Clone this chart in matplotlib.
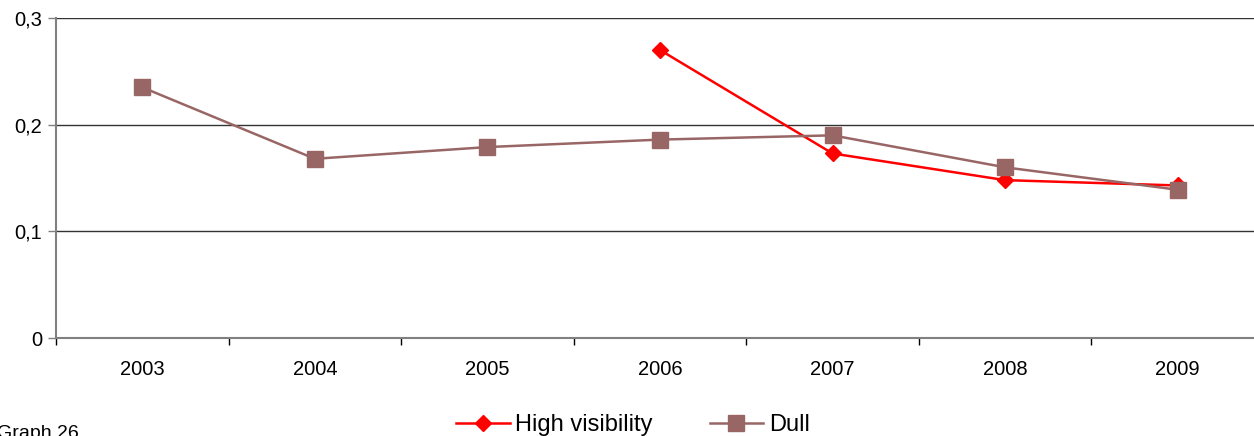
import matplotlib.pyplot as plt
import numpy as np

years = ["2003", "2004", "2005", "2006", "2007", "2008", "2009"]
high_visibility = [np.nan, np.nan, np.nan, 0.270, 0.173, 0.148, 0.143]
dull = [0.235, 0.168, 0.179, 0.186, 0.190, 0.160, 0.139]
y_ticks = [0, 0.1, 0.2, 0.3]
y_labels = ["0", "0,1", "0,2", "0,3"]

plt.rcParams["font.family"] = ["Liberation Sans", "DejaVu Sans"]

fig = plt.figure(figsize=(12.54, 4.36), dpi=100)
ax = fig.add_axes([56 / 1254, 1 - 338 / 436, 1208 / 1254, 320 / 436])

x = np.arange(len(years))
ax.plot(x, high_visibility, color="#ff0000", lw=1.8, marker="D", ms=7.8,
        label="High visibility", zorder=3)
ax.plot(x, dull, color="#996666", lw=1.8, marker="s", ms=11,
        label="Dull", zorder=4)

ax.set_xlim(-0.5, len(years) - 0.5)
ax.set_ylim(0, 0.3)
ax.set_yticks(y_ticks)
ax.set_yticklabels(y_labels, fontsize=14.5)
ax.set_xticks(x)
ax.set_xticklabels(years, fontsize=14.5)
ax.set_xticks(np.arange(-0.5, len(years)), minor=True)
ax.tick_params(axis="x", which="major", length=0, pad=15.5)
ax.tick_params(axis="x", which="minor", length=5, width=1, color="black")
ax.tick_params(axis="y", length=6, width=1, color="#808080", pad=4)

for y in y_ticks[1:]:
    ax.axhline(y, color="#333333", lw=1, zorder=1)

for side in ["top", "right"]:
    ax.spines[side].set_visible(False)
for side in ["left", "bottom"]:
    ax.spines[side].set_color("#808080")
    ax.spines[side].set_linewidth(1.5)

fig.legend(loc="center", bbox_to_anchor=(633 / 1254, 1 - 425 / 436), ncol=2,
           frameon=False, fontsize=17, handlelength=2.25, columnspacing=2.4,
           handletextpad=0.25)

fig.text(-0.002, 1 - 425 / 436, "Graph 26", fontsize=14, va="top", ha="left")

fig.savefig("out.png", dpi=100)
